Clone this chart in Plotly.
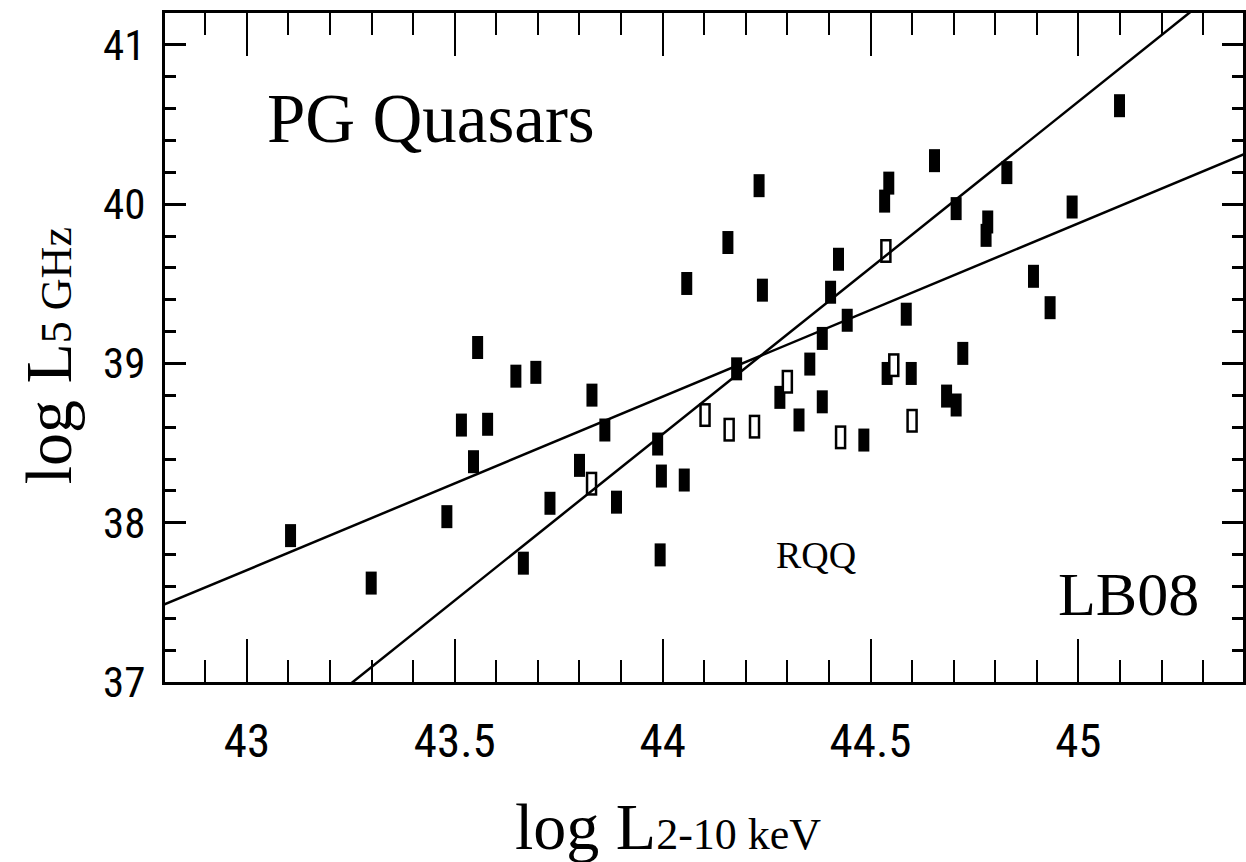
import plotly.graph_objects as go

# ---------------- data ----------------
x_filled = [43.105, 43.299, 43.481, 43.516, 43.555, 43.545, 43.579, 43.647, 43.695, 43.665,
            43.729, 43.800, 43.830, 43.861, 43.889, 43.988, 43.997, 43.994, 44.052, 44.058,
            44.157, 44.178, 44.232, 44.240, 44.282, 44.328, 44.354, 44.384, 44.384, 44.404,
            44.423, 44.444, 44.484, 44.534, 44.544, 44.540, 44.586, 44.598, 44.654, 44.683,
            44.706, 44.706, 44.722, 44.778, 44.782, 44.828, 44.892, 44.932, 44.985, 45.099]
y_filled = [37.919, 37.621, 38.038, 38.613, 39.100, 38.383, 38.618, 38.920, 38.944, 37.746,
            38.122, 38.360, 38.801, 38.582, 38.129, 38.494, 38.293, 37.798, 38.268, 39.502,
            39.759, 38.966, 40.116, 39.460, 38.787, 38.645, 38.996, 38.759, 39.157, 39.447,
            39.654, 39.271, 38.519, 40.019, 40.132, 38.937, 39.309, 38.937, 40.273, 38.795,
            38.739, 39.972, 39.063, 39.804, 39.888, 40.198, 39.547, 39.350, 39.982, 40.618]

x_open = [43.829, 44.102, 44.160, 44.221, 44.300, 44.428, 44.537, 44.556, 44.600]
y_open = [38.245, 38.676, 38.584, 38.603, 38.885, 38.536, 39.706, 38.989, 38.640]

fit_flat_x = [42.80, 45.40]
fit_flat_y = [37.485, 40.315]
fit_steep_x = [43.25, 45.30]
fit_steep_y = [36.99, 41.27]

x_tickvals = [43, 43.5, 44, 44.5, 45]
x_ticktext = ["43", "43.5", "44", "44.5", "45"]
y_tickvals = [37, 38, 39, 40, 41]
y_ticktext = ["37", "38", "39", "40", "41"]

# ---------------- layout geometry ----------------
W, H = 1246, 862
ML, MR, MT, MB = 165, 0, 13, 180
PW, PH = W - ML - MR, H - MT - MB


def px(xp):
    return (xp - ML) / PW


def py(yp):
    return (H - MB - yp) / PH


TICK_FONT = "Roboto Condensed, Liberation Sans Narrow, DejaVu Sans Condensed, sans-serif"
SERIF = "Liberation Serif, Times New Roman, serif"

BAR_LEN = 23.0
BAR_W = 11.0

fig = go.Figure()

fig.add_trace(go.Scatter(
    x=x_filled, y=y_filled, mode="markers",
    marker=dict(symbol="line-ns", size=BAR_LEN / 1.4, color="black",
                line=dict(color="black", width=BAR_W)),
    hoverinfo="skip", showlegend=False))

fig.add_trace(go.Scatter(
    x=x_open, y=y_open, mode="markers",
    marker=dict(symbol="line-ns", size=(BAR_LEN + 1) / 1.4, color="black",
                line=dict(color="black", width=BAR_W + 0.5)),
    hoverinfo="skip", showlegend=False))
fig.add_trace(go.Scatter(
    x=x_open, y=y_open, mode="markers",
    marker=dict(symbol="line-ns", size=(BAR_LEN - 4) / 1.4, color="white",
                line=dict(color="white", width=BAR_W - 4.5)),
    hoverinfo="skip", showlegend=False))

for fx, fy in ((fit_flat_x, fit_flat_y), (fit_steep_x, fit_steep_y)):
    fig.add_trace(go.Scatter(x=fx, y=fy, mode="lines",
                             line=dict(color="black", width=2.5),
                             hoverinfo="skip", showlegend=False))

fig.update_layout(
    width=W, height=H,
    margin=dict(l=ML, r=MR, t=MT, b=MB, pad=0),
    paper_bgcolor="white", plot_bgcolor="white",
    showlegend=False,
)

fig.update_xaxes(
    range=[42.803, 45.396], tickmode="array", tickvals=x_tickvals, ticktext=x_ticktext,
    ticks="inside", ticklen=43, tickwidth=1.5, tickcolor="black",
    minor=dict(dtick=0.1, tick0=43, ticks="inside", ticklen=22, tickwidth=1.5, tickcolor="black"),
    showline=True, linewidth=3, linecolor="black", mirror="allticks",
    showgrid=False, zeroline=False,
    tickfont=dict(family=TICK_FONT, size=47, color="black"),
    ticklabelstandoff=16,
)
fig.update_yaxes(
    range=[37.0, 41.2], tickmode="array", tickvals=y_tickvals, ticktext=y_ticktext,
    ticks="inside", ticklen=21, tickwidth=3, tickcolor="black",
    minor=dict(dtick=0.2, tick0=37, ticks="inside", ticklen=11, tickwidth=3, tickcolor="black"),
    showline=True, linewidth=3, linecolor="black", mirror="allticks",
    showgrid=False, zeroline=False,
    tickfont=dict(family=TICK_FONT, size=43, color="black"),
    ticklabelstandoff=8,
)

annotations = [
    dict(text="PG Quasars", x=px(265), y=py(119.0), xanchor="left", yanchor="middle",
         font=dict(family=SERIF, size=69, color="black")),
    dict(text="LB08", x=px(1204), y=py(593.5), xanchor="right", yanchor="middle",
         font=dict(family=SERIF, size=62, color="black")),
    dict(text="RQQ", x=px(818), y=py(555), xanchor="center", yanchor="middle",
         font=dict(family=SERIF, size=38, color="black")),
    dict(text='log L<span style="font-size:44px">2-10 keV</span>', x=px(669), y=py(826),
         xanchor="center", yanchor="middle",
         font=dict(family=SERIF, size=66, color="black")),
    dict(text='log L<span style="font-size:44px">5 GHz</span>', x=px(48), y=py(356),
         xanchor="center", yanchor="middle", textangle=-90,
         font=dict(family=SERIF, size=66, color="black")),
]
for a in annotations:
    a.update(xref="paper", yref="paper", showarrow=False)
fig.update_layout(annotations=annotations)

fig.write_html("out.html")
